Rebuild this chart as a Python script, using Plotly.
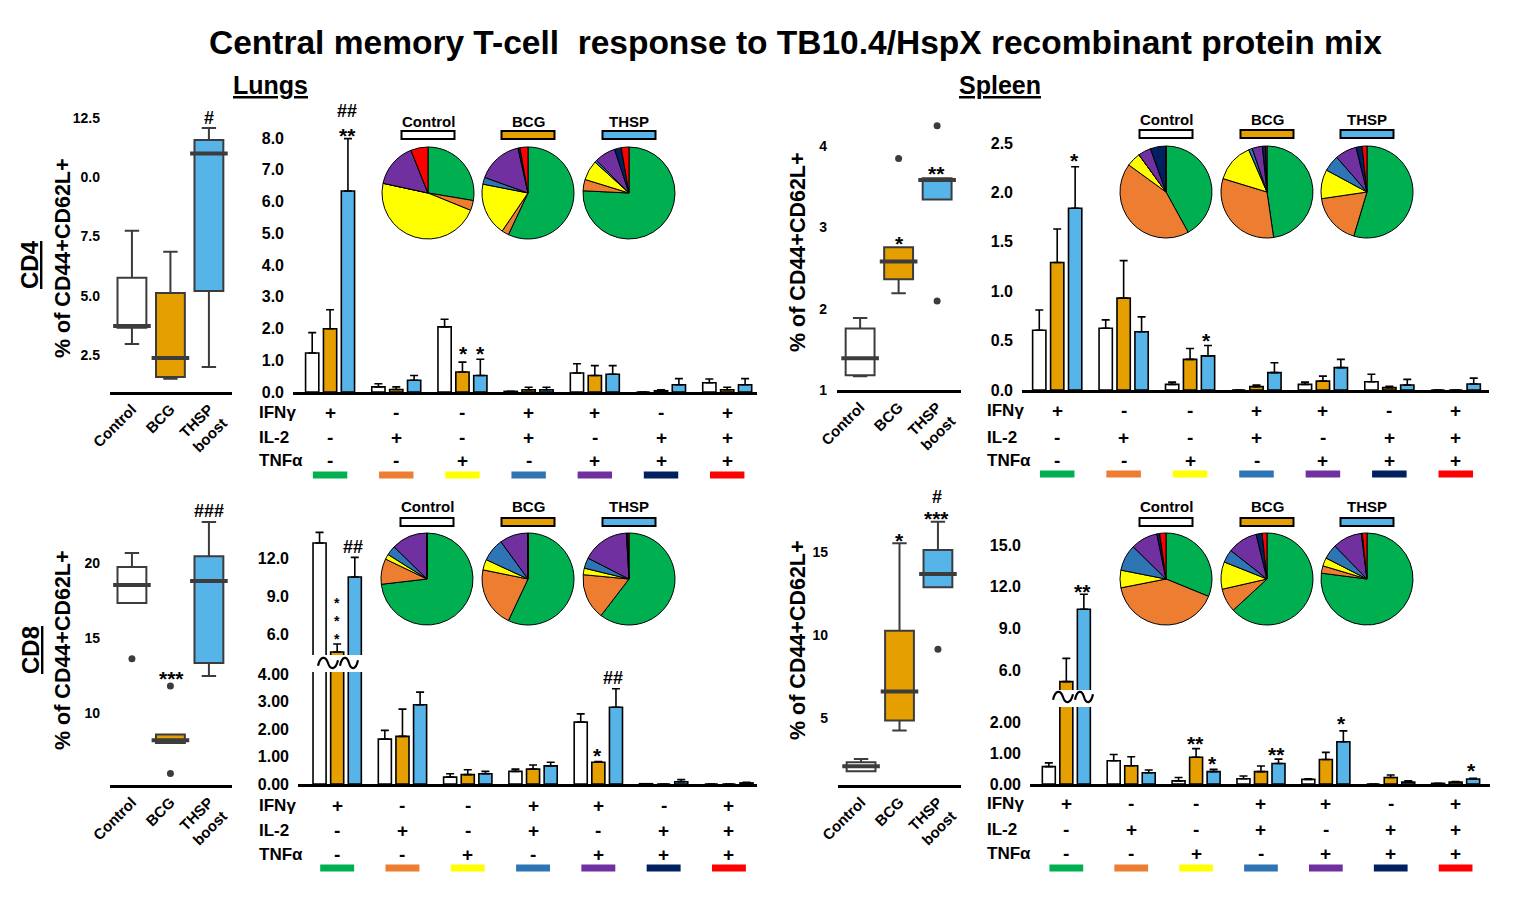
import plotly.graph_objects as go

W, H = 1515, 899
FONT = "Liberation Sans, Arial, sans-serif"

# ---------------- data ----------------
groups = ["Control", "BCG", "THSP boost"]
group_ticktext = ["Control", "BCG", "THSP<br>boost"]
pie_names = ["Control", "BCG", "THSP"]
group_colors = ["#FFFFFF", "#E69F00", "#56B4E9"]

subsets = ["IFNγ+", "IL-2+", "TNFα+", "IFNγ+IL-2+", "IFNγ+TNFα+", "IL-2+TNFα+", "IFNγ+IL-2+TNFα+"]
row_ifng = ["+", "-", "-", "+", "+", "-", "+"]
row_il2 = ["-", "+", "-", "+", "-", "+", "+"]
row_tnf = ["-", "-", "+", "-", "+", "+", "+"]
subset_colors = ["#00B050", "#ED7D31", "#FFFF00", "#2E75B6", "#7030A0", "#002060", "#FF0000"]

# box plots: % of CD44+CD62L+
lung_cd4_q1 = [3.65, 1.57, 5.20]
lung_cd4_med = [3.72, 2.37, 11.00]
lung_cd4_q3 = [5.76, 5.12, 11.57]
lung_cd4_lo = [2.97, 1.50, 2.00]
lung_cd4_hi = [7.74, 6.86, 12.08]
lung_cd4_out = [[], [], []]

spleen_cd4_q1 = [1.18, 2.36, 3.34]
spleen_cd4_med = [1.39, 2.58, 3.58]
spleen_cd4_q3 = [1.755, 2.755, 3.60]
spleen_cd4_lo = [1.17, 2.19, 3.34]
spleen_cd4_hi = [1.886, 2.755, 3.60]
spleen_cd4_out = [[], [3.845], [4.245, 2.094]]

lung_cd8_q1 = [17.33, 8.00, 13.33]
lung_cd8_med = [18.53, 8.18, 18.80]
lung_cd8_q3 = [19.73, 8.56, 20.44]
lung_cd8_lo = [17.33, 8.00, 12.47]
lung_cd8_hi = [20.67, 8.56, 22.73]
lung_cd8_out = [[13.62], [11.80, 5.96], []]

spleen_cd8_q1 = [1.80, 4.86, 12.86]
spleen_cd8_med = [2.10, 6.60, 13.66]
spleen_cd8_q3 = [2.34, 10.24, 15.10]
spleen_cd8_lo = [1.80, 4.26, 12.86]
spleen_cd8_hi = [2.54, 15.50, 16.80]
spleen_cd8_out = [[], [], [9.14]]

# bar charts: mean and SEM per cytokine subset
lung_cd4_ctrl = [1.23, 0.16, 2.05, 0.02, 0.60, 0.00, 0.29]
lung_cd4_ctrl_sem = [0.64, 0.10, 0.24, 0.00, 0.29, 0.00, 0.12]
lung_cd4_bcg = [1.99, 0.08, 0.63, 0.07, 0.52, 0.04, 0.07]
lung_cd4_bcg_sem = [0.60, 0.08, 0.31, 0.08, 0.31, 0.03, 0.08]
lung_cd4_thsp = [6.33, 0.37, 0.52, 0.07, 0.56, 0.23, 0.23]
lung_cd4_thsp_sem = [1.65, 0.15, 0.51, 0.08, 0.27, 0.19, 0.19]

spleen_cd4_ctrl = [0.605, 0.625, 0.057, 0.00, 0.057, 0.084, 0.00]
spleen_cd4_ctrl_sem = [0.205, 0.085, 0.023, 0.00, 0.023, 0.076, 0.00]
spleen_cd4_bcg = [1.29, 0.93, 0.31, 0.034, 0.09, 0.024, 0.00]
spleen_cd4_bcg_sem = [0.34, 0.38, 0.11, 0.016, 0.05, 0.013, 0.00]
spleen_cd4_thsp = [1.84, 0.59, 0.345, 0.176, 0.226, 0.05, 0.06]
spleen_cd4_thsp_sem = [0.42, 0.15, 0.105, 0.10, 0.084, 0.058, 0.06]

lung_cd8_ctrl = [13.17, 1.63, 0.25, 0.46, 2.25, 0.01, 0.00]
lung_cd8_ctrl_sem = [0.83, 0.32, 0.12, 0.08, 0.30, 0.00, 0.00]
lung_cd8_bcg = [4.64, 1.73, 0.34, 0.54, 0.79, 0.00, 0.00]
lung_cd8_bcg_sem = [0.63, 0.99, 0.18, 0.15, 0.03, 0.00, 0.00]
lung_cd8_thsp = [10.51, 2.88, 0.37, 0.66, 2.79, 0.08, 0.04]
lung_cd8_thsp_sem = [1.54, 0.46, 0.09, 0.13, 0.67, 0.08, 0.02]

spleen_cd8_ctrl = [0.56, 0.75, 0.10, 0.17, 0.15, 0.00, 0.02]
spleen_cd8_ctrl_sem = [0.12, 0.20, 0.11, 0.09, 0.02, 0.00, 0.00]
spleen_cd8_bcg = [5.16, 0.59, 0.86, 0.40, 0.79, 0.21, 0.06]
spleen_cd8_bcg_sem = [1.68, 0.29, 0.28, 0.18, 0.23, 0.08, 0.02]
spleen_cd8_thsp = [10.37, 0.36, 0.40, 0.66, 1.36, 0.06, 0.16]
spleen_cd8_thsp_sem = [1.08, 0.09, 0.07, 0.14, 0.35, 0.04, 0.02]

# pie charts: share (%) of each cytokine subset
lung_cd4_pie_ctrl = [27.5, 3.5, 47.0, 0.0, 15.5, 0.0, 6.0]
lung_cd4_pie_bcg = [57.0, 2.5, 18.6, 2.4, 16.0, 0.7, 2.8]
lung_cd4_pie_thsp = [76.0, 4.0, 7.0, 0.8, 7.4, 2.4, 2.7]
spleen_cd4_pie_ctrl = [42.0, 43.0, 5.0, 0.0, 4.5, 5.5, 0.0]
spleen_cd4_pie_bcg = [47.7, 32.0, 13.8, 1.3, 3.6, 1.1, 0.5]
spleen_cd4_pie_thsp = [54.6, 18.0, 10.2, 5.7, 7.6, 2.1, 1.7]
lung_cd8_pie_ctrl = [73.3, 9.0, 1.8, 3.4, 12.7, 0.0, 0.0]
lung_cd8_pie_bcg = [57.0, 21.2, 3.7, 8.1, 10.0, 0.0, 0.0]
lung_cd8_pie_thsp = [60.4, 16.1, 2.3, 3.7, 16.6, 0.5, 0.4]
spleen_cd8_pie_ctrl = [31.3, 40.9, 6.2, 9.3, 9.5, 1.0, 2.2]
spleen_cd8_pie_bcg = [63.2, 8.3, 9.6, 4.6, 10.6, 2.1, 1.7]
spleen_cd8_pie_thsp = [77.1, 2.6, 2.9, 5.2, 10.3, 0.4, 1.6]

# ---------------- helpers ----------------
def PX(x):
    return x / W


def PY(y):
    return 1 - y / H


fig = go.Figure()
layout = dict(
    width=W, height=H, margin=dict(l=0, r=0, t=0, b=0, pad=0), autosize=False,
    plot_bgcolor="white", paper_bgcolor="white", showlegend=False,
    barmode="overlay", font=dict(family=FONT, color="black"),
)
annotations = []
shapes = []
axinfo = {}


def axes(i, xd, yd, xr, yr, xline=True, xtick=False, yticks=None, yticktext=None, ysize=16, standoff=8):
    s = "" if i == 1 else str(i)
    axinfo[i] = dict(xd=xd, xr=xr)
    layout["xaxis" + s] = dict(
        domain=[PX(xd[0]), PX(xd[1])], range=xr, anchor="y" + s, automargin=False,
        showgrid=False, zeroline=False, showline=xline, linecolor="black", linewidth=2.5,
        ticks="", fixedrange=True, showticklabels=xtick,
        tickvals=[0, 1, 2] if xtick else None, ticktext=group_ticktext if xtick else None,
        tickangle=-45, tickfont=dict(size=15, family=FONT, weight="bold"),
    )
    layout["yaxis" + s] = dict(
        domain=[PY(yd[0]), PY(yd[1])], range=yr, anchor="x" + s, automargin=False,
        showgrid=False, zeroline=False, showline=False, ticks="", fixedrange=True,
        showticklabels=yticks is not None, tickvals=yticks, ticktext=yticktext,
        tickfont=dict(size=ysize, family=FONT, weight="bold"), ticklabelstandoff=standoff,
    )


def ref(i):
    return ("x" if i == 1 else "x%d" % i), ("y" if i == 1 else "y%d" % i)


def txt(s, x, y, size=16, bold=True, xanchor="center", yanchor="middle", angle=0, xref="paper"):
    annotations.append(dict(
        text=("<b>%s</b>" % s) if bold else s,
        x=PX(x) if xref == "paper" else x, y=PY(y), xref=xref, yref="paper",
        showarrow=False, xanchor=xanchor, yanchor=yanchor, textangle=angle,
        font=dict(size=size, family=FONT, color="black"),
    ))


def star(s, x, y, size=21):
    txt(s, x, y + 0.24 * size, size=size)


def box_panel(i, q1, med, q3, lo, hi, outs):
    xa, ya = ref(i)
    xd, xr = axinfo[i]["xd"], axinfo[i]["xr"]
    ppu = (xd[1] - xd[0]) / (xr[1] - xr[0])
    bw = 0.75
    for k in range(3):
        fig.add_trace(go.Box(
            x=[k], q1=[q1[k]], median=[med[k]], q3=[q3[k]],
            lowerfence=[lo[k]], upperfence=[hi[k]], orientation="v",
            fillcolor=group_colors[k], line=dict(color="#3C3C3C", width=2),
            width=bw, boxpoints=False, hoverinfo="skip", xaxis=xa, yaxis=ya,
        ))
        fig.add_trace(go.Scatter(
            x=[k], y=[med[k]], mode="markers", hoverinfo="skip",
            marker=dict(symbol="line-ew", size=bw * ppu - 2, line=dict(width=4, color="#3C3C3C")),
            xaxis=xa, yaxis=ya,
        ))
        if outs[k]:
            fig.add_trace(go.Scatter(
                x=[k] * len(outs[k]), y=outs[k], mode="markers", hoverinfo="skip",
                marker=dict(size=7, color="#3C3C3C"), xaxis=xa, yaxis=ya,
            ))


def bar_panel(idxs, series, sems):
    offs = [-0.37, -0.10, 0.17]
    for i in idxs:
        xa, ya = ref(i)
        for k in range(3):
            fig.add_trace(go.Bar(
                x=list(range(7)), y=series[k], width=0.2, offset=offs[k],
                marker=dict(color=group_colors[k], line=dict(color="black", width=1.6)),
                error_y=dict(type="data", array=sems[k], arrayminus=[0] * 7, symmetric=False,
                             color="black", thickness=1.6, width=4),
                hoverinfo="skip", xaxis=xa, yaxis=ya,
            ))


def rows(i, lx, ys, cb_y):
    xa, _ = ref(i)
    for name, vals, yy in zip(["IFNγ", "IL-2", "TNFα"], [row_ifng, row_il2, row_tnf], ys):
        txt(name, lx, yy, size=17, xanchor="left")
        for g, v in enumerate(vals):
            txt(v, g, yy, size=19, xref=xa)
    for g, c in enumerate(subset_colors):
        shapes.append(dict(type="rect", xref=xa, yref="paper", x0=g - 0.26, x1=g + 0.26,
                           y0=PY(cb_y + 3.5), y1=PY(cb_y - 3.5), fillcolor=c, line=dict(width=0)))


def pies(centers, label_y, bar_y, datas, r=46):
    for (cx, cy), name, vals, gc in zip(centers, pie_names, datas, group_colors):
        fig.add_trace(go.Pie(
            labels=subsets, values=vals, sort=False, direction="clockwise", rotation=0,
            marker=dict(colors=subset_colors, line=dict(color="black", width=1)),
            textinfo="none", hoverinfo="skip", showlegend=False,
            domain=dict(x=[PX(cx - r), PX(cx + r)], y=[PY(cy + r), PY(cy - r)]),
        ))
        txt(name, cx, label_y, size=15)
        shapes.append(dict(type="rect", xref="paper", yref="paper",
                           x0=PX(cx - 26.5), x1=PX(cx + 26.5), y0=PY(bar_y + 4), y1=PY(bar_y - 4),
                           fillcolor=gc, line=dict(color="black", width=2)))


def squiggle(x0, x1, y, a=4.5):
    w = x1 - x0
    p = "M %f,%f C %f,%f %f,%f %f,%f S %f,%f %f,%f" % (
        PX(x0), PY(y + a * 0.6),
        PX(x0 + w * 0.12), PY(y - a * 1.6), PX(x0 + w * 0.38), PY(y - a * 1.6), PX(x0 + w * 0.5), PY(y),
        PX(x0 + w * 0.88), PY(y + a * 1.6), PX(x1), PY(y - a * 0.6),
    )
    shapes.append(dict(type="path", xref="paper", yref="paper", path=p,
                       line=dict(color="black", width=2.2)))


# ---------------- axes ----------------
axes(1, (110, 232), (392, 110), [-0.57, 2.6], [0.94, 12.84], xtick=True,
     yticks=[2.5, 5, 7.5, 10, 12.5], yticktext=["2.5", "5.0", "7.5", "0.0", "12.5"], ysize=14, standoff=9)
axes(2, (293, 757), (392, 105), [-0.56, 6.45], [0, 9.04],
     yticks=[0, 1, 2, 3, 4, 5, 6, 7, 8], yticktext=["0.0", "1.0", "2.0", "3.0", "4.0", "5.0", "6.0", "7.0", "8.0"])
axes(3, (837, 961), (390, 110), [-0.6, 2.62], [1, 4.44], xtick=True,
     yticks=[1, 2, 3, 4], yticktext=["1", "2", "3", "4"], ysize=14, standoff=9)
axes(4, (1022, 1489), (390, 105), [-0.53, 6.5], [0, 2.885],
     yticks=[0, 0.5, 1, 1.5, 2, 2.5], yticktext=["0.0", "0.5", "1.0", "1.5", "2.0", "2.5"])
axes(5, (110, 232), (785, 495), [-0.57, 2.6], [5.2, 24.53], xtick=True,
     yticks=[10, 15, 20], yticktext=["10", "15", "20"], ysize=14, standoff=9)
axes(6, (298, 757), (784, 672), [-0.6, 6.43], [0, 4.07],
     yticks=[0, 1, 2, 3, 4], yticktext=["0.00", "1.00", "2.00", "3.00", "4.00"])
axes(7, (298, 757), (655, 520), [-0.6, 6.43], [4.41, 14.97], xline=False,
     yticks=[6, 9, 12], yticktext=["6.0", "9.0", "12.0"])
axes(8, (838, 961), (785, 490), [-0.6, 2.6], [0.98, 18.7], xtick=True,
     yticks=[5, 10, 15], yticktext=["5", "10", "15"], ysize=14, standoff=9)
axes(9, (1030, 1490), (784, 707), [-0.56, 6.53], [0, 2.48],
     yticks=[0, 1, 2], yticktext=["0.00", "1.00", "2.00"])
axes(10, (1030, 1490), (690, 525), [-0.56, 6.53], [4.56, 16.44], xline=False,
     yticks=[6, 9, 12, 15], yticktext=["6.0", "9.0", "12.0", "15.0"])

# ---------------- traces ----------------
box_panel(1, lung_cd4_q1, lung_cd4_med, lung_cd4_q3, lung_cd4_lo, lung_cd4_hi, lung_cd4_out)
box_panel(3, spleen_cd4_q1, spleen_cd4_med, spleen_cd4_q3, spleen_cd4_lo, spleen_cd4_hi, spleen_cd4_out)
box_panel(5, lung_cd8_q1, lung_cd8_med, lung_cd8_q3, lung_cd8_lo, lung_cd8_hi, lung_cd8_out)
box_panel(8, spleen_cd8_q1, spleen_cd8_med, spleen_cd8_q3, spleen_cd8_lo, spleen_cd8_hi, spleen_cd8_out)

bar_panel([2], [lung_cd4_ctrl, lung_cd4_bcg, lung_cd4_thsp],
          [lung_cd4_ctrl_sem, lung_cd4_bcg_sem, lung_cd4_thsp_sem])
bar_panel([4], [spleen_cd4_ctrl, spleen_cd4_bcg, spleen_cd4_thsp],
          [spleen_cd4_ctrl_sem, spleen_cd4_bcg_sem, spleen_cd4_thsp_sem])
bar_panel([6, 7], [lung_cd8_ctrl, lung_cd8_bcg, lung_cd8_thsp],
          [lung_cd8_ctrl_sem, lung_cd8_bcg_sem, lung_cd8_thsp_sem])
bar_panel([9, 10], [spleen_cd8_ctrl, spleen_cd8_bcg, spleen_cd8_thsp],
          [spleen_cd8_ctrl_sem, spleen_cd8_bcg_sem, spleen_cd8_thsp_sem])

pies([(428, 193), (528, 193), (629, 193)], 121, 135,
     [lung_cd4_pie_ctrl, lung_cd4_pie_bcg, lung_cd4_pie_thsp])
pies([(1166, 192), (1267, 192), (1367, 192)], 120, 134,
     [spleen_cd4_pie_ctrl, spleen_cd4_pie_bcg, spleen_cd4_pie_thsp])
pies([(427, 579), (528, 579), (629, 579)], 506, 522,
     [lung_cd8_pie_ctrl, lung_cd8_pie_bcg, lung_cd8_pie_thsp])
pies([(1166, 579), (1267, 579), (1367, 579)], 506, 522,
     [spleen_cd8_pie_ctrl, spleen_cd8_pie_bcg, spleen_cd8_pie_thsp])

# ---------------- cytokine rows ----------------
rows(2, 257, [412, 437, 460], 475)
rows(4, 985, [411, 437, 460], 474)
rows(6, 257, [805, 830, 854], 868)
rows(9, 985, [803, 829, 853], 868)

# broken-axis marks
squiggle(318, 338, 663)
squiggle(340, 358, 663)
squiggle(1053, 1073, 697)
squiggle(1075, 1093, 697)

# ---------------- titles & labels ----------------
txt("Central memory T-cell  response to TB10.4/HspX recombinant protein mix", 795, 43, size=33.5)
txt("<u>Lungs</u>", 270, 85, size=25)
txt("<u>Spleen</u>", 1000, 85, size=25)
txt("<u>CD4</u>", 30, 265, size=24, angle=-90)
txt("<u>CD8</u>", 30, 650, size=24, angle=-90)
txt("% of CD44+CD62L+", 63, 258, size=21.5, angle=-90)
txt("% of CD44+CD62L+", 63, 650, size=21.5, angle=-90)
txt("% of CD44+CD62L+", 798, 252, size=21.5, angle=-90)
txt("% of CD44+CD62L+", 798, 640, size=21.5, angle=-90)

# significance marks
txt("#", 209, 118, size=18)
txt("##", 347, 111, size=18)
star("**", 347, 130)
star("*", 463, 348)
star("*", 480, 348)
star("*", 899, 238)
star("**", 937, 168)
star("*", 1074, 155)
star("*", 1206, 335)
txt("###", 209, 511, size=18)
star("***", 171, 673)
txt("*<br>*<br>*", 337, 621, size=14)
txt("##", 353, 547, size=18)
star("*", 597, 750)
txt("##", 613, 678, size=18)
txt("#", 937, 497, size=18)
star("***", 937, 513)
star("*", 899, 535)
star("**", 1082, 586)
star("**", 1195, 738)
star("*", 1212, 758)
star("**", 1276, 749)
star("*", 1341, 718)
star("*", 1471, 765)

layout["annotations"] = annotations
layout["shapes"] = shapes
fig.update_layout(**layout)
fig.write_html("out.html", post_script="document.body.style.margin='0';",
               config={"displayModeBar": False})
